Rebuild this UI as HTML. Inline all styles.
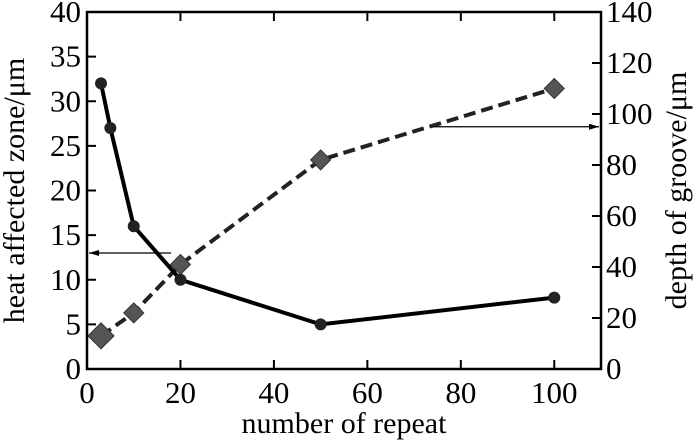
<!DOCTYPE html>
<html><head><meta charset="utf-8"><style>
html,body{margin:0;padding:0;background:#fff;}
svg, svg text{font-family:"Liberation Serif","DejaVu Serif","Times New Roman",serif;}
</style></head><body>
<svg id="chart" width="700" height="440" font-family="Liberation Serif, DejaVu Serif, serif"></svg>
<script>
const xValues=[3,5,10,20,50,100];
const hazValues=[32,27,16,10,5,8];
const grooveX=[3,10,20,50,100];
const grooveValues=[13,22,41,82,110];
const xTicks=[0,20,40,60,80,100];
const yLeftTicks=[0,5,10,15,20,25,30,35,40];
const yRightTicks=[0,20,40,60,80,100,120,140];
const NS="http://www.w3.org/2000/svg";
const svg=document.getElementById('chart');
const L=87,R=601,T=12,B=369;
const FF='Liberation Serif, DejaVu Serif, serif';
const xs=v=>L+(v/110)*(R-L);
const yl=v=>B-(v/40)*(B-T);
const yr=v=>B-(v/140)*(B-T);
function mk(tag,attrs,parent){const e=document.createElementNS(NS,tag);for(const k in attrs)e.setAttribute(k,attrs[k]);(parent||svg).appendChild(e);return e;}
const defs=mk('defs',{});
const m=mk('marker',{id:'ah',markerWidth:'10',markerHeight:'6',refX:'10',refY:'3',orient:'auto',markerUnits:'userSpaceOnUse'},defs);
mk('path',{d:'M0,0 L10,3 L0,6 Z',fill:'#000'},m);
const frame=mk('rect',{x:L,y:T,width:R-L,height:B-T,fill:'none',stroke:'#000','stroke-width':2.5});


xTicks.forEach(v=>{
  mk('line',{x1:xs(v),x2:xs(v),y1:B,y2:B-9,stroke:'#000','stroke-width':2});
  mk('line',{x1:xs(v),x2:xs(v),y1:T,y2:T+9,stroke:'#000','stroke-width':2});
  const t=mk('text',{x:xs(v),y:B+34,'font-size':31,'font-family':FF,'text-anchor':'middle'});t.textContent=v;
  
  
});
yLeftTicks.forEach(v=>{
  mk('line',{x1:L,x2:L+9,y1:yl(v),y2:yl(v),stroke:'#000','stroke-width':2});
  const t=mk('text',{x:L-6,y:yl(v)+10,'font-size':31,'font-family':FF,'text-anchor':'end'});t.textContent=v;
  
  
});
yRightTicks.forEach(v=>{
  mk('line',{x1:R,x2:R-9,y1:yr(v),y2:yr(v),stroke:'#000','stroke-width':2});
  const t=mk('text',{x:R+5,y:yr(v)+10,'font-size':31,'font-family':FF,'text-anchor':'start'});t.textContent=v;
  
  
});
const xt=mk('text',{x:(L+R)/2,y:433,'font-size':30,'font-family':FF,'text-anchor':'middle'});xt.textContent='number of repeat';


const ylt=mk('text',{transform:'translate(24,'+((T+B)/2)+') rotate(-90)','font-size':30,'font-family':FF,'text-anchor':'middle'});ylt.textContent='heat affected zone/μm';


const yrt=mk('text',{transform:'translate(686,'+((T+B)/2)+') rotate(-90)','font-size':30,'font-family':FF,'text-anchor':'middle'});yrt.textContent='depth of groove/μm';


const gp=mk('polyline',{points:grooveX.map((x,i)=>xs(x)+','+yr(grooveValues[i])).join(' '),fill:'none',stroke:'#222','stroke-width':4,'stroke-dasharray':'12,6'});


grooveX.forEach((x,i)=>{
  const cx=xs(x),cy=yr(grooveValues[i]),s=i===0?13:10;
  const d=mk('polygon',{points:`${cx},${cy-s} ${cx+s},${cy} ${cx},${cy+s} ${cx-s},${cy}`,fill:'#555',stroke:'#333','stroke-width':1});
  
  
});
const hp=mk('polyline',{points:xValues.map((x,i)=>xs(x)+','+yl(hazValues[i])).join(' '),fill:'none',stroke:'#000','stroke-width':4});


xValues.forEach((x,i)=>{
  const c=mk('circle',{cx:xs(x),cy:yl(hazValues[i]),r:6,fill:'#222'});
  
  
});
const a1=mk('line',{x1:xs(18),y1:yl(13),x2:L+2,y2:yl(13),stroke:'#000','stroke-width':1.2,'marker-end':'url(#ah)'});


const a2=mk('line',{x1:xs(74),y1:yr(95),x2:R-2,y2:yr(95),stroke:'#000','stroke-width':1.2,'marker-end':'url(#ah)'});


</script>
</body></html>
